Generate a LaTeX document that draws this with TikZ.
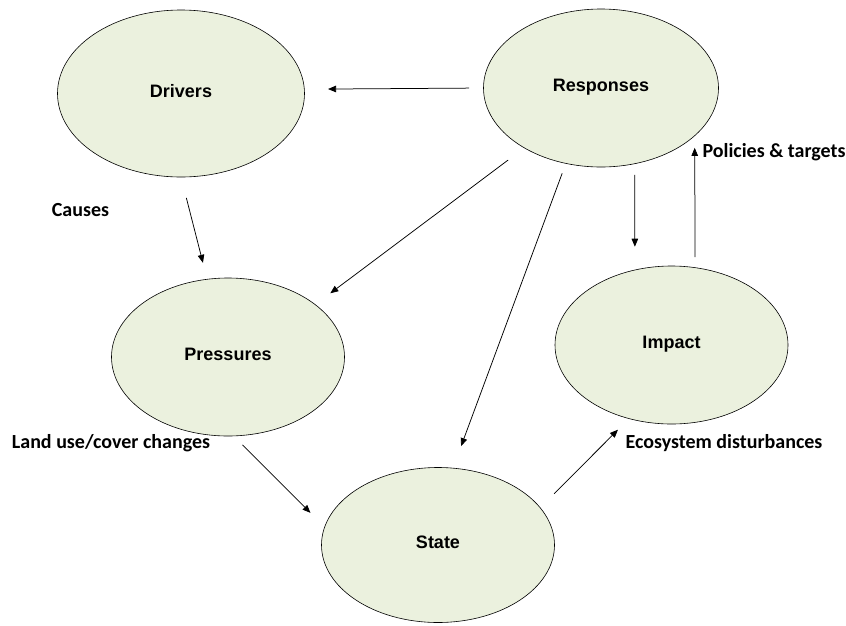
\documentclass[tikz,border=0pt]{standalone}
\usepackage{fontspec}
\usetikzlibrary{shapes.geometric,arrows.meta}
\newfontfamily\ovalfont{Liberation Sans}
\newfontfamily\notefont{Carlito}
\definecolor{ovalfill}{HTML}{EBF1DE}
\tikzset{
  oval/.style={ellipse, draw=black, line width=0.6pt, fill=ovalfill,
    inner sep=0pt, outer sep=0pt, font=\ovalfont\bfseries\fontsize{18}{20}\selectfont,
    text height=0.72em, text depth=0pt},
  note/.style={inner sep=0pt, font=\notefont\bfseries\fontsize{20}{22}\selectfont},
  link/.style={line width=0.75pt, -{Triangle[length=8pt,width=6.5pt]}}
}
\begin{document}
\begin{tikzpicture}[x=1pt,y=-1pt]
\useasboundingbox[fill=white] (0,0) rectangle (846,625);

% the five stages of the cycle
\node[oval, minimum width=247pt, minimum height=167pt] (drv) at (181,93.5) {Drivers};
\node[oval, minimum width=235pt, minimum height=158pt] (rsp) at (601,88) {Responses};
\node[oval, minimum width=233pt, minimum height=158pt] (prs) at (228,357) {Pressures};
\node[oval, minimum width=233pt, minimum height=158pt] (imp) at (671.5,345) {Impact};
\node[oval, minimum width=233pt, minimum height=155pt] (sta) at (438,545) {State};

% side notes
\node[note] (causes) at (80.5,210) {Causes};
\node[note] (landuse) at (111,443) {Land use/cover changes};
\node[note] (eco) at (724,443) {Ecosystem disturbances};
\node[note] (policy) at (774,152) {Policies \& targets};

% links between the stages
\draw[link, shorten <=14.5pt, shorten >=23.7pt] (rsp.180.5) -- (drv.2.1);
\draw[link, shorten <=21.6pt, shorten >=17pt] (drv.-90) -- (prs.105.85);
\draw[link, shorten <=20.3pt, shorten >=18.9pt] (rsp.-142.05) -- (prs.31.26);
\draw[link, shorten <=10.6pt, shorten >=23.5pt] (rsp.-115.8) -- (sta.79.83);
\draw[link, shorten <=11.1pt, shorten >=23.3pt] (rsp.-66.82) -- (imp.116.97);
\draw[link, shorten <=10.6pt, shorten >=12.1pt] (imp.73.45) -- (rsp.-27.13);
\draw[link, shorten <=12.7pt, shorten >=20.1pt] (prs.-86.3) -- (sta.171.95);
\draw[link, shorten <=19.8pt, shorten >=15.7pt] (sta.20.12) -- (imp.-120.68);
\end{tikzpicture}
\end{document}
